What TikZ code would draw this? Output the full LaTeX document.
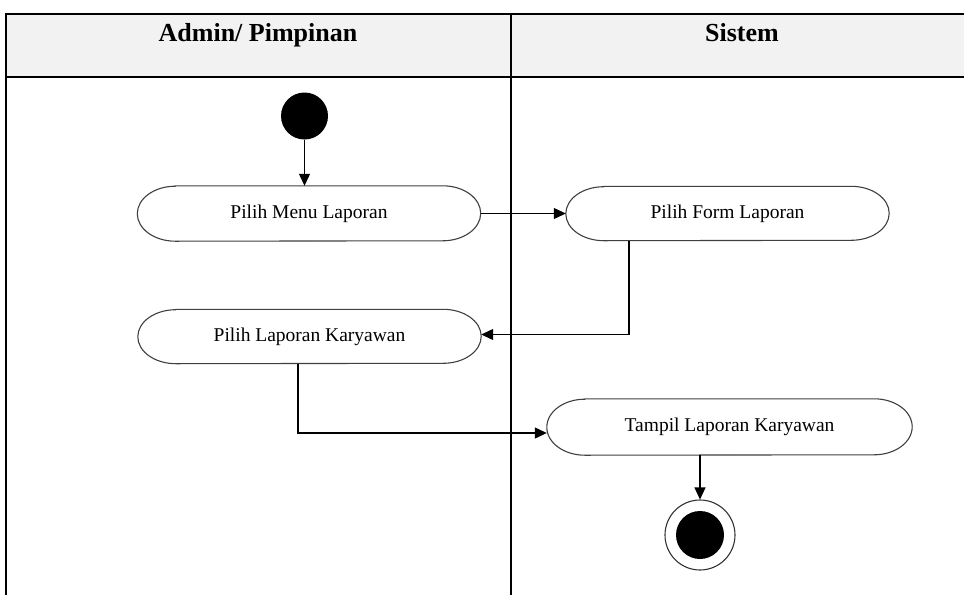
\documentclass[tikz,border=0pt]{standalone}
\usepackage{fontspec}
\setmainfont{Liberation Serif}
\usetikzlibrary{arrows.meta}
\newcommand\actbox[6]{%
  \node[actn, minimum width=#4pt, minimum height=#5pt] (#1) at (#2,#3) {#6};
  \draw[actline] ([xshift=38pt]#1.north west) -- ([xshift=-38pt]#1.north east)
    arc[start angle=90, end angle=-90, x radius=38pt, y radius=#5pt/2]
    -- ([xshift=38pt]#1.south west)
    arc[start angle=270, end angle=90, x radius=38pt, y radius=#5pt/2] -- cycle;
  \node[actn, minimum width=#4pt, minimum height=#5pt] at (#1.center) {#6};
}
\begin{document}
\begin{tikzpicture}[x=1pt,y=-1pt,
  actn/.style={rectangle, draw=none, inner sep=0pt, font=\fontsize{19.5}{20}\selectfont},
  actline/.style={draw=black!75, line width=1.1pt, fill=white},
  conn/.style={draw=black, line width=1.2pt, -{Triangle[length=12pt,width=11pt]}},
  border/.style={line width=2.2pt, black},
  head/.style={font=\fontsize{26}{28}\selectfont\bfseries, anchor=base}]
\useasboundingbox (0,0) rectangle (964,595);
% swimlane table
\fill[black!5] (6,14) rectangle (964,77);
\draw[border] (5,14) -- (964,14);
\draw[border] (6,77) -- (964,77);
\draw[border] (6,13) -- (6,595);
\draw[border] (511,13) -- (511,595);
\node[head] (h1) at (258,41) {Admin/ Pimpinan};
\node[head] (h2) at (742,41) {Sistem};
% nodes
\node[circle, fill=black, minimum size=47pt, inner sep=0pt] (start) at (304.5,116) {};
\actbox{menu}{309}{213.5}{343}{55}{Pilih Menu Laporan}
\actbox{form}{727.5}{213.5}{323}{54}{Pilih Form Laporan}
\actbox{kary}{309.5}{336.5}{343}{54}{Pilih Laporan Karyawan}
\actbox{tampil}{729.5}{427}{365}{56}{Tampil Laporan Karyawan}
\node[circle, draw=black!80, line width=1.1pt, fill=white, minimum size=70pt, inner sep=0pt] (end) at (700,535) {};
\node[circle, fill=black, minimum size=48pt, inner sep=0pt] (endin) at (end.center) {};
% connectors
\draw[conn] (start.south) -- (start.south |- menu.north);
\draw[conn] (menu.east) -- (form.west);
\coordinate (fd) at (629,0);
\draw[conn] (form.south -| fd) |- ([yshift=2pt]kary.east);
\coordinate (kd) at (298,0);
\draw[conn] (kary.south -| kd) |- ([yshift=-6pt]tampil.west);
\draw[conn] (tampil.south -| end.north) -- (end.north);
\end{tikzpicture}
\end{document}
